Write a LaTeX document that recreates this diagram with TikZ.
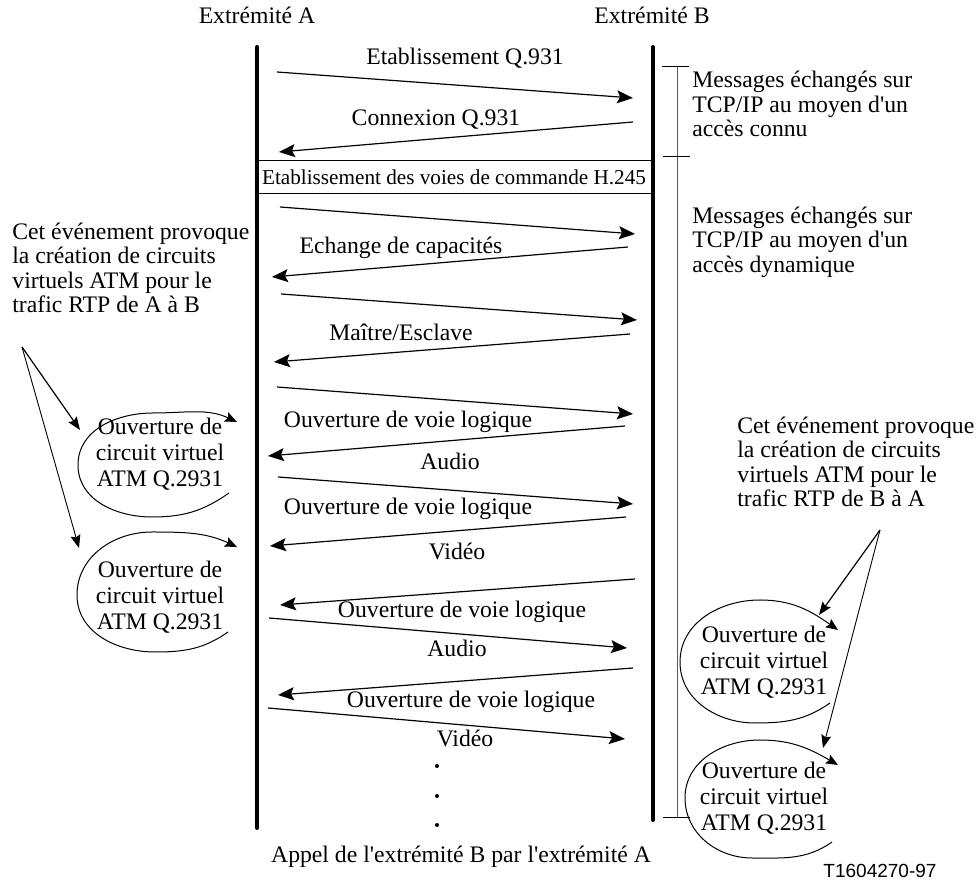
\documentclass[tikz,border=0pt]{standalone}
\usepackage{fontspec}
\setmainfont{Liberation Serif}[Ligatures=TeXOff]
\newfontfamily\codefont{Liberation Sans}
\usetikzlibrary{arrows.meta}

\tikzset{
  lifeline/.style={line width=2pt, line cap=round},
  msg/.style={line width=0.6pt, -{Stealth[length=8pt,width=6.5pt,inset=1.5pt]}},
  lbl/.style={inner sep=0pt, font=\fontsize{11.85}{12.25}\selectfont},
  note/.style={lbl, align=left, anchor=west},
  ovaltext/.style={lbl, align=center, font=\fontsize{11.85}{13}\selectfont},
  oval/.style={line width=0.5pt, -{Stealth[length=6pt,width=5pt,inset=1pt]}},
  callout/.style={line width=0.6pt, -{Stealth[length=6.5pt,width=5pt,inset=1pt]}},
  bracket/.style={line width=0.5pt, draw=black!65},
}

\begin{document}
\begin{tikzpicture}[x=0.5pt, y=0.5pt]
\useasboundingbox (0,0) rectangle (980,-886);

% the two end points
\coordinate (Atop) at (257,-47);
\coordinate (Abot) at (257,-828);
\coordinate (Btop) at (653,-47);
\coordinate (Bbot) at (653,-820);
\node[lbl] (hdrA) at (257,-15) {Extrémité A};
\node[lbl] (hdrB) at (652,-15) {Extrémité B};

\node[lbl, font=\fontsize{10.6}{12}\selectfont, draw, line width=0.5pt, minimum width=197pt, minimum height=16.5pt] (h245) at (454,-177.5) {Etablissement des voies de commande H.245};

\draw[lifeline] (Atop) -- (Abot);
\draw[lifeline] (Btop) -- (Bbot);

% bracket on the right
\coordinate (brTop) at (677,-67);
\coordinate (brMid) at (677,-157);
\coordinate (brBot) at (677,-818);
\draw[bracket] (brTop) -- (brBot);
\draw[line width=0.5pt] ([xshift=-7.5pt]brTop) -- ([xshift=6pt]brTop);
\draw[line width=0.5pt] ([xshift=-7pt]brMid) -- ([xshift=6.5pt]brMid);
\draw[line width=0.5pt] ([xshift=-7pt]brBot) -- ([xshift=6.5pt]brBot);
\node[note] (known) at (692,-104) {Messages échangés sur\\TCP/IP au moyen d'un\\accès connu};
\node[note] (dyn) at (692,-242) {Messages échangés sur\\TCP/IP au moyen d'un\\accès dynamique};

% messages
\coordinate (m1s) at (277,-72);   \coordinate (m1e) at (633,-98);
\coordinate (m2s) at (633,-122);  \coordinate (m2e) at (279,-152);
\coordinate (m3s) at (280,-207);  \coordinate (m3e) at (635,-234);
\coordinate (m4s) at (628,-247);  \coordinate (m4e) at (272,-277);
\coordinate (m5s) at (281,-294);  \coordinate (m5e) at (637,-320);
\coordinate (m6s) at (630,-334);  \coordinate (m6e) at (274,-362);
\coordinate (m7s) at (277,-387);  \coordinate (m7e) at (633,-414);
\coordinate (m8s) at (625,-426);  \coordinate (m8e) at (268,-456);
\coordinate (m9s) at (278,-477);  \coordinate (m9e) at (633,-504);
\coordinate (m10s) at (626,-517); \coordinate (m10e) at (270,-546);
\coordinate (m11s) at (635,-579); \coordinate (m11e) at (280,-605);
\coordinate (m12s) at (269,-618); \coordinate (m12e) at (627,-648);
\coordinate (m13s) at (633,-668); \coordinate (m13e) at (278,-695);
\coordinate (m14s) at (268,-708); \coordinate (m14e) at (625,-739);

\draw[msg] (m1s) -- (m1e);
\draw[msg] (m2s) -- (m2e);
\draw[msg] (m3s) -- (m3e);
\draw[msg] (m4s) -- (m4e);
\draw[msg] (m5s) -- (m5e);
\draw[msg] (m6s) -- (m6e);
\draw[msg] (m7s) -- (m7e);
\draw[msg] (m8s) -- (m8e);
\draw[msg] (m9s) -- (m9e);
\draw[msg] (m10s) -- (m10e);
\draw[msg] (m11s) -- (m11e);
\draw[msg] (m12s) -- (m12e);
\draw[msg] (m13s) -- (m13e);
\draw[msg] (m14s) -- (m14e);

\node[lbl] (l1) at (465,-58) {Etablissement Q.931};
\node[lbl] (l2) at (436,-120) {Connexion Q.931};
\node[lbl] (l4) at (401,-248) {Echange de capacités};
\node[lbl] (l6) at (401,-332) {Maître/Esclave};
\node[lbl] (l8) at (408,-422) {Ouverture de voie logique};
\node[lbl] (l8b) at (450,-461) {Audio};
\node[lbl] (l9) at (408,-509) {Ouverture de voie logique};
\node[lbl] (l10) at (457,-551) {Vidéo};
\node[lbl] (l11) at (462,-612) {Ouverture de voie logique};
\node[lbl] (l12) at (457,-648) {Audio};
\node[lbl] (l13) at (471,-702) {Ouverture de voie logique};
\node[lbl] (l14) at (465,-738) {Vidéo};

\fill (437,-766) circle[radius=2];
\fill (437,-796) circle[radius=2];
\fill (437,-825) circle[radius=2];

% events at end point A
\node[note] (evAtext) at (12,-268) {Cet événement provoque\\la création de circuits\\virtuels ATM pour le\\trafic RTP de A à B};
\coordinate (evA) at (22,-347);
\coordinate (ovA1tip) at (80,-430);
\coordinate (ovA2tip) at (79,-548);
\draw[callout] (evA) -- (ovA1tip);
\draw[callout, line width=0.45pt] (evA) -- (ovA2tip);
\draw[oval] (229,-493) to[out=215,in=0] (152,-517) to[out=180,in=-90] (78,-465)
  to[out=90,in=180] (153,-413) to[out=0,in=155] (237,-422);
\draw[oval] (228,-632) to[out=215,in=0] (155,-652) to[out=180,in=-90] (77,-595)
  to[out=90,in=180] (152,-532) to[out=0,in=155] (237,-547);
\node[ovaltext] (ovA1) at (160,-454) {Ouverture de\\circuit virtuel\\ATM Q.2931};
\node[ovaltext] (ovA2) at (160,-597) {Ouverture de\\circuit virtuel\\ATM Q.2931};

% events at end point B
\node[note] (evBtext) at (737,-462) {Cet événement provoque\\la création de circuits\\virtuels ATM pour le\\trafic RTP de B à A};
\coordinate (evB) at (880,-530);
\coordinate (ovB1tip) at (819,-615);
\coordinate (ovB2tip) at (823,-748);
\draw[callout] (evB) -- (ovB1tip);
\draw[callout, line width=0.45pt] (evB) -- (ovB2tip);
\draw[oval] (830,-703) to[out=215,in=0] (755,-723) to[out=180,in=-90] (680,-662)
  to[out=90,in=180] (760,-600) to[out=0,in=145] (838,-630);
\draw[oval] (832,-842) to[out=215,in=0] (752,-858) to[out=180,in=-90] (685,-798)
  to[out=90,in=180] (760,-740) to[out=0,in=150] (838,-765);
\node[ovaltext] (ovB1) at (764,-662) {Ouverture de\\circuit virtuel\\ATM Q.2931};
\node[ovaltext] (ovB2) at (764,-798) {Ouverture de\\circuit virtuel\\ATM Q.2931};

\node[lbl] (caption) at (461,-857) {Appel de l'extrémité B par l'extrémité A};
\node[inner sep=0pt, font=\codefont\fontsize{9.5}{10}\selectfont] (code) at (880,-871) {T1604270-97};
\end{tikzpicture}
\end{document}
